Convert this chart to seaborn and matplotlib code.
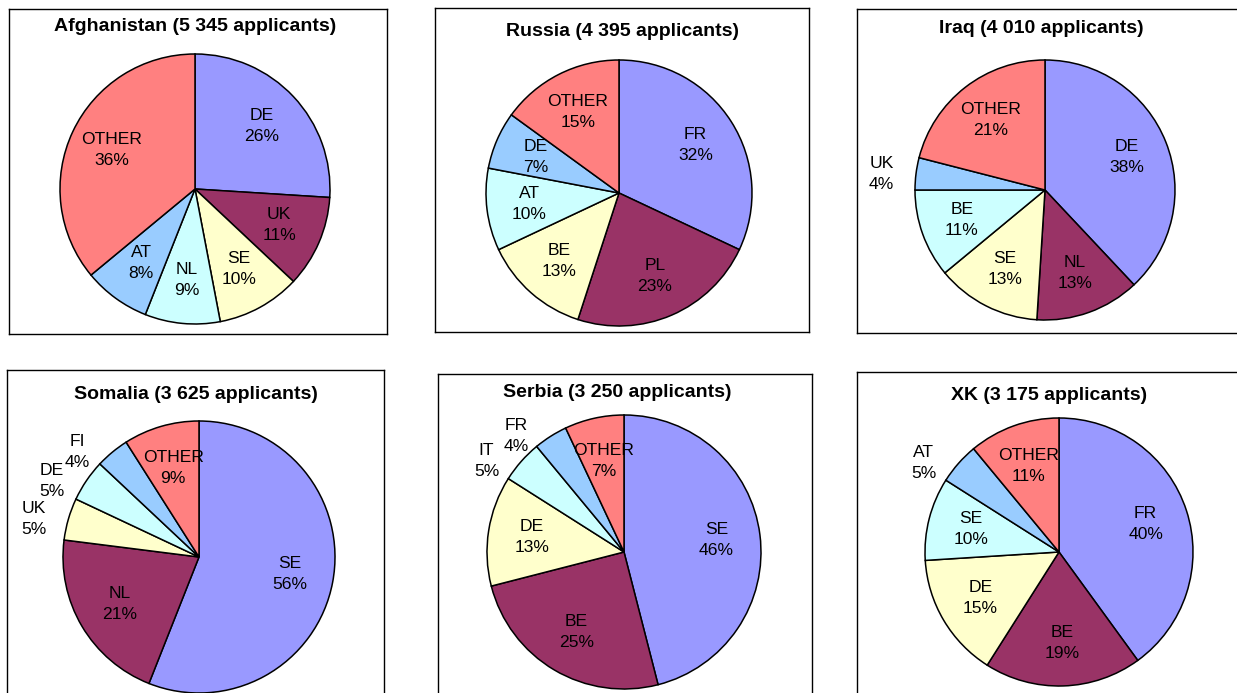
import matplotlib
matplotlib.use("Agg")
import matplotlib.pyplot as plt
import numpy as np
import seaborn as sns

# data ---------------------------------------------------------------
titles = ["Afghanistan (5 345 applicants)", "Russia (4 395 applicants)", "Iraq (4 010 applicants)",
          "Somalia (3 625 applicants)", "Serbia (3 250 applicants)", "XK (3 175 applicants)"]

afg_labels = ["DE", "UK", "SE", "NL", "AT", "OTHER"]
afg_values = [26, 11, 10, 9, 8, 36]
rus_labels = ["FR", "PL", "BE", "AT", "DE", "OTHER"]
rus_values = [32, 23, 13, 10, 7, 15]
irq_labels = ["DE", "NL", "SE", "BE", "UK", "OTHER"]
irq_values = [38, 13, 13, 11, 4, 21]
som_labels = ["SE", "NL", "UK", "DE", "FI", "OTHER"]
som_values = [56, 21, 5, 5, 4, 9]
srb_labels = ["SE", "BE", "DE", "IT", "FR", "OTHER"]
srb_values = [46, 25, 13, 5, 4, 7]
xk_labels = ["FR", "BE", "DE", "SE", "AT", "OTHER"]
xk_values = [40, 19, 15, 10, 5, 11]

slice_colors = ["#9999FF", "#993366", "#FFFFCC", "#CCFFFF", "#99CCFF", "#FF8080"]

# layout (pixels, top-left origin) ------------------------------------
W, H = 1237, 693
boxes = [(9, 9, 387, 334), (435, 8, 809, 332), (857, 9, 1240, 333),
         (7, 370, 384, 700), (438, 374, 812, 700), (857, 372, 1240, 700)]
centers = [(195, 189, 135), (619, 193, 133), (1045, 190, 130),
           (199, 557, 136), (624, 552, 137), (1059, 552, 134)]
title_pos = [(195, 27), (622, 32), (1041, 28), (196, 394), (617, 392), (1049, 396)]

panels = [(afg_labels, afg_values), (rus_labels, rus_values), (irq_labels, irq_values),
          (som_labels, som_values), (srb_labels, srb_values), (xk_labels, xk_values)]

sns.set_theme(style="white")
plt.rcParams['font.family'] = ['Liberation Sans', 'DejaVu Sans']

fig = plt.figure(figsize=(W / 100, H / 100), dpi=100)

for i, (labels, values) in enumerate(panels):
    x0, y0, x1, y1 = boxes[i]
    cx, cy, r = centers[i]
    ax = fig.add_axes([x0 / W, 1 - y1 / H, (x1 - x0) / W, (y1 - y0) / H])

    wedges, _ = ax.pie(values, colors=slice_colors, startangle=90, counterclock=False,
                       radius=1, wedgeprops=dict(edgecolor="black", linewidth=1.1))

    # labels inside the slice; small slices (<= 5%) get the label outside, left of the rim
    for w, lab, v in zip(wedges, labels, values):
        mid = np.deg2rad((w.theta1 + w.theta2) / 2)
        if v > 5:
            ax.text(0.68 * np.cos(mid), 0.68 * np.sin(mid), f"{lab}\n{v}%",
                    ha="center", va="center", fontsize=12.6, color="black", linespacing=1.5)
        else:
            ax.text(np.cos(mid) - 22 / r, np.sin(mid), f"{lab}\n{v}%",
                    ha="right", va="center", fontsize=12.6, color="black", linespacing=1.5,
                    multialignment="center")

    tx, ty = title_pos[i]
    ax.text((tx - cx) / r, (cy - ty) / r, titles[i], ha="center", va="center",
            fontsize=14, fontweight="bold", color="black")

    ax.set_aspect("auto")
    ax.set_xlim((x0 - cx) / r, (x1 - cx) / r)
    ax.set_ylim((cy - y1) / r, (cy - y0) / r)
    ax.set_frame_on(True)
    ax.set_xticks([])
    ax.set_yticks([])
    for s in ax.spines.values():
        s.set_visible(True)
        s.set_color("black")
        s.set_linewidth(1.0)

fig.savefig("out.png", dpi=100, facecolor="white")
